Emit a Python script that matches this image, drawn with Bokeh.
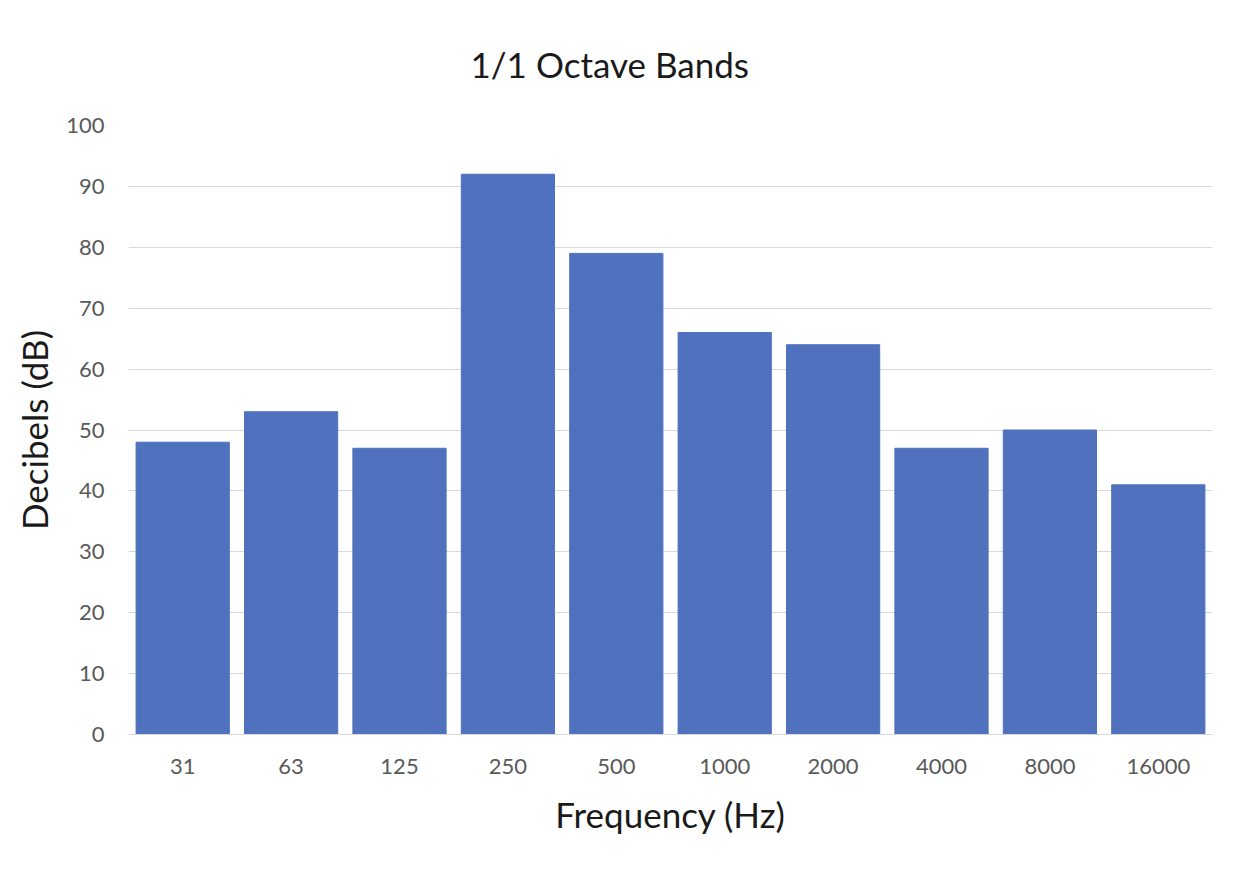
from bokeh.plotting import figure
from bokeh.models import FactorRange, Range1d, ColumnDataSource, SingleIntervalTicker
from bokeh.embed import file_html
from bokeh.resources import INLINE

frequencies = ["31", "63", "125", "250", "500", "1000", "2000", "4000", "8000", "16000"]
decibels = [48, 53, 47, 92, 79, 66, 64, 47, 50, 41]

FONT = "Lato"
source = ColumnDataSource(data=dict(freq=frequencies, db=decibels))

p = figure(
    x_range=FactorRange(*frequencies, range_padding=0),
    y_range=Range1d(0, 100),
    width=1230, height=862,
    output_backend="svg", toolbar_location=None,
    title="1/1 Octave Bands",
    min_border_left=128, min_border_right=18,
    min_border_top=125, min_border_bottom=128,
)
p.outline_line_color = None

p.vbar(x="freq", top="db", width=0.86, source=source,
       fill_color="#4F71BE", line_color="#4F71BE", line_width=1)

p.title.text_font = FONT
p.title.text_font_size = "35px"
p.title.text_font_style = "normal"
p.title.text_color = "#1a1a1a"
p.title.align = "left"
p.title.offset = 342
p.title.standoff = 81

p.xgrid.grid_line_color = None
p.ygrid.grid_line_color = "#D9D9D9"
p.ygrid.grid_line_width = 1
p.yaxis.ticker = SingleIntervalTicker(interval=10)

for ax in (p.xaxis, p.yaxis):
    ax.major_tick_line_color = None
    ax.minor_tick_line_color = None
    ax.major_label_text_font = FONT
    ax.major_label_text_font_size = "22px"
    ax.major_label_text_color = "#595959"
    ax.axis_label_text_font = FONT
    ax.axis_label_text_font_size = "35px"
    ax.axis_label_text_font_style = "normal"
    ax.axis_label_text_color = "#1a1a1a"

p.xaxis.axis_label = "Frequency (Hz)"
p.yaxis.axis_label = "Decibels (dB)"
p.xaxis.axis_line_color = "#D9D9D9"
p.yaxis.axis_line_color = None
p.xaxis.major_label_standoff = 18
p.xaxis.axis_label_standoff = 16
p.yaxis.major_label_standoff = 18
p.yaxis.axis_label_standoff = 8

open("out.html", "w").write(file_html(p, INLINE))
